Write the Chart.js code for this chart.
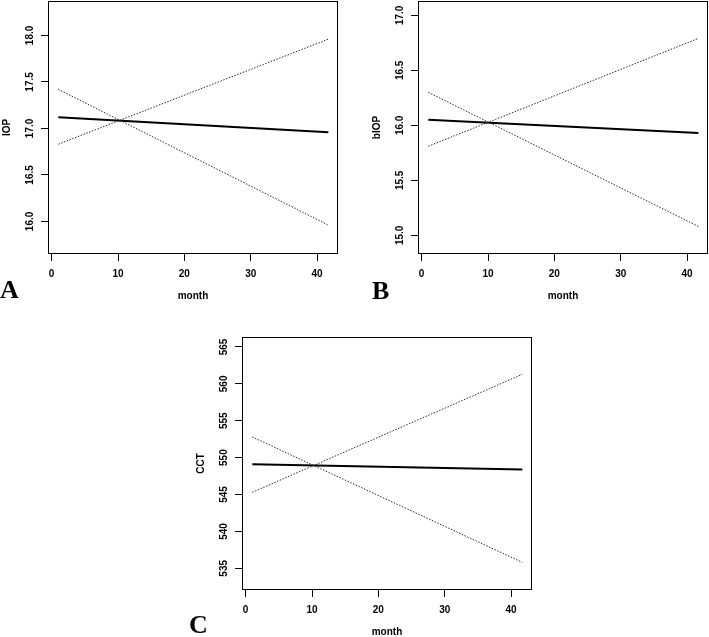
<!DOCTYPE html>
<html lang="en">
<head>
<meta charset="UTF-8" />
<title>IOP, bIOP and CCT by month</title>
<script src="https://cdn.jsdelivr.net/npm/chart.js"></script>
<style>
    body { margin: 0; width: 709px; height: 637px; overflow: hidden; background: #fff; position: relative; }
    canvas { position: absolute; }
    .tag { position: absolute; font: bold 26px "Liberation Serif", "Times New Roman", serif; line-height: 1; color: #000; }
</style>
</head>
<body>
<canvas id="chartA" width="340" height="310" style="left:0;top:0"></canvas>
<canvas id="chartB" width="340" height="310" style="left:370px;top:0"></canvas>
<canvas id="chartC" width="340" height="310" style="left:194px;top:336px"></canvas>
<div class="tag" style="left:0;top:277px">A</div>
<div class="tag" style="left:372px;top:278px">B</div>
<div class="tag" style="left:189px;top:612px">C</div>
<script>
    // predicted values at first and last month
    const monthX = [1, 41.7];
    const iopMain = [17.12, 16.96];
    const iopUpper = [16.83, 17.96];
    const iopLower = [17.42, 15.96];
    const biopMain = [16.05, 15.93];
    const biopUpper = [15.81, 16.79];
    const biopLower = [16.3, 15.08];
    const cctMain = [549.1, 548.4];
    const cctUpper = [545.3, 561.3];
    const cctLower = [552.8, 535.8];

    const xTicks = [0, 10, 20, 30, 40];
    const iopTicks = [16.0, 16.5, 17.0, 17.5, 18.0];
    const biopTicks = [15.0, 15.5, 16.0, 16.5, 17.0];
    const cctTicks = [535, 540, 545, 550, 555, 560, 565];

    Chart.defaults.color = "#000";
    Chart.defaults.font.family = '"Liberation Sans", Arial, sans-serif';
    Chart.defaults.font.size = 10;
    Chart.defaults.font.weight = "bold";

    // box around the plot + y tick labels turned like in R
    const rBox = {
        id: "rBox",
        afterDraw(chart, args, opts) {
            const { ctx, chartArea: a } = chart;
            const y = chart.scales.y;
            ctx.save();
            ctx.strokeStyle = "#000";
            ctx.lineWidth = 1;
            const l = Math.round(a.left) + 0.5;
            const t = Math.round(a.top) + 0.5;
            const r = Math.round(a.right) - 0.5;
            const b = Math.round(a.bottom) - 0.5;
            ctx.strokeRect(l, t, r - l, b - t);
            ctx.fillStyle = "#000";
            ctx.font = 'bold 10px "Liberation Sans", Arial, sans-serif';
            ctx.textAlign = "center";
            ctx.textBaseline = "middle";
            y.ticks.forEach((tk) => {
                ctx.save();
                ctx.translate(a.left - 18, y.getPixelForValue(tk.value));
                ctx.rotate(-Math.PI / 2);
                ctx.fillText(tk.value.toFixed(opts.decimals), 0, 0);
                ctx.restore();
            });
            ctx.restore();
        },
    };

    function pts(ys) {
        return monthX.map((x, i) => ({ x: x, y: ys[i] }));
    }

    function makeChart(id, yTitle, yMin, yMax, yTicks, main, upper, lower, decimals) {
        const dotted = {
            borderColor: "#2a2a2a",
            borderWidth: 1,
            borderDash: [1.5, 1.5],
            pointRadius: 0,
            showLine: true,
        };
        new Chart(document.getElementById(id), {
            type: "scatter",
            data: {
                datasets: [
                    Object.assign({ data: pts(upper) }, dotted),
                    Object.assign({ data: pts(lower) }, dotted),
                    {
                        data: pts(main),
                        borderColor: "#000",
                        borderWidth: 2,
                        pointRadius: 0,
                        showLine: true,
                    },
                ],
            },
            options: {
                responsive: false,
                animation: false,
                layout: { padding: { left: 0, top: 1, right: 2, bottom: 0 } },
                plugins: {
                    legend: { display: false },
                    tooltip: { enabled: false },
                    rBox: { decimals: decimals },
                },
                scales: {
                    x: {
                        type: "linear",
                        min: -0.55,
                        max: 43.15,
                        afterBuildTicks: (s) => {
                            s.ticks = xTicks.map((v) => ({ value: v }));
                        },
                        ticks: { padding: 7.5 },
                        grid: {
                            drawOnChartArea: false,
                            drawTicks: true,
                            tickLength: 7,
                            color: "#000",
                        },
                        border: { display: false },
                        title: {
                            display: true,
                            text: "month",
                            padding: { top: 2, bottom: 8 },
                        },
                    },
                    y: {
                        type: "linear",
                        min: yMin,
                        max: yMax,
                        afterBuildTicks: (s) => {
                            s.ticks = yTicks.map((v) => ({ value: v }));
                        },
                        ticks: { display: false },
                        grid: {
                            drawOnChartArea: false,
                            drawTicks: true,
                            tickLength: 7,
                            color: "#000",
                        },
                        border: { display: false },
                        title: {
                            display: true,
                            text: yTitle,
                            padding: { top: 1, bottom: 28 },
                        },
                    },
                },
            },
            plugins: [rBox],
        });
    }

    makeChart("chartA", "IOP", 15.65, 18.37, iopTicks, iopMain, iopUpper, iopLower, 1);
    makeChart("chartB", "bIOP", 14.83, 17.13, biopTicks, biopMain, biopUpper, biopLower, 1);
    makeChart("chartC", "CCT", 532.06, 566.35, cctTicks, cctMain, cctUpper, cctLower, 0);
</script>
</body>
</html>
